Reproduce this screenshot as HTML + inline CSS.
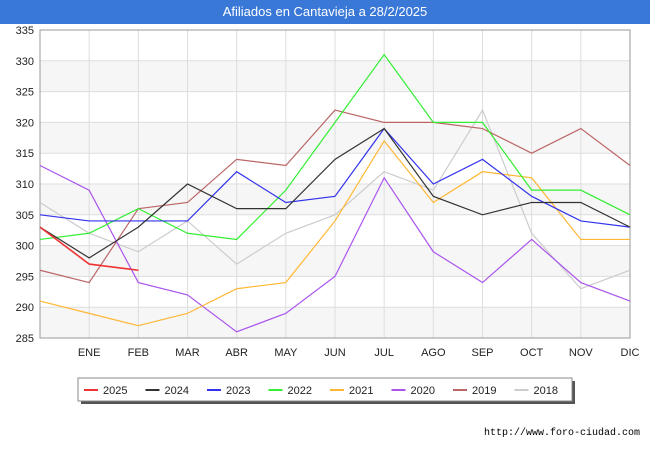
<!DOCTYPE html>
<html><head><meta charset="utf-8"><style>
body{margin:0;width:650px;height:450px;background:#fff;font-family:"Liberation Sans",sans-serif;overflow:hidden}
#title{position:absolute;left:0;top:0;width:650px;height:24px;background:#3a78d8;color:#fff;font-size:13px;text-align:center;line-height:24px}
#url{position:absolute;right:10px;top:428px;font-size:10px;color:#000;font-family:"Liberation Mono",monospace}
</style></head><body>
<div id="title">Afiliados en Cantavieja a 28/2/2025</div>
<svg id="chart" width="650" height="450" style="position:absolute;left:0;top:0"></svg>
<div id="url">http://www.foro-ciudad.com</div>
<script>
const months=["","ENE","FEB","MAR","ABR","MAY","JUN","JUL","AGO","SEP","OCT","NOV","DIC"];
const yTicks=[285,290,295,300,305,310,315,320,325,330,335];
const seriesNames=["2025","2024","2023","2022","2021","2020","2019","2018"];
const seriesColors=["#ee3333","#333333","#3333ee","#33ee33","#ffb733","#aa55ee","#bb6666","#cccccc"];
const s2025=[303,297,296];
const s2024=[303,298,303,310,306,306,314,319,308,305,307,307,303];
const s2023=[305,304,304,304,312,307,308,319,310,314,308,304,303];
const s2022=[301,302,306,302,301,309,320,331,320,320,309,309,305];
const s2021=[291,289,287,289,293,294,304,317,307,312,311,301,301];
const s2020=[313,309,294,292,286,289,295,311,299,294,301,294,291];
const s2019=[296,294,306,307,314,313,322,320,320,319,315,319,313];
const s2018=[307,302,299,304,297,302,305,312,309,322,302,293,296];
const allSeries=[s2025,s2024,s2023,s2022,s2021,s2020,s2019,s2018];
const NS="http://www.w3.org/2000/svg";
const svg=document.getElementById('chart');
const L=40,R=630,T=30,B=338,yMin=285,yMax=335;
const xs=i=>L+i*(R-L)/12;
const ys=v=>B-(v-yMin)*(B-T)/(yMax-yMin);
function mk(t,a){const e=document.createElementNS(NS,t);for(const k in a)e.setAttribute(k,a[k]);svg.appendChild(e);return e;}
for(let i=0;i<yTicks.length-1;i++){
  if(i%2===0){const r=mk('rect',{x:L,y:ys(yTicks[i+1]),width:R-L,height:ys(yTicks[i])-ys(yTicks[i+1]),fill:'#f6f6f6'});
  
  }
}
yTicks.forEach(v=>{
  const l=mk('line',{x1:L,x2:R,y1:ys(v),y2:ys(v),stroke:'#dddddd','stroke-width':1});
  
  
  const t=mk('text',{x:L-6,y:ys(v)+4,'text-anchor':'end','font-size':11,fill:'#222'});t.textContent=v;
  
  
});
months.forEach((m,i)=>{
  const l=mk('line',{x1:xs(i),x2:xs(i),y1:T,y2:B,stroke:'#dddddd','stroke-width':1});
  
  
  if(m){const t=mk('text',{x:xs(i),y:B+18,'text-anchor':'middle','font-size':11,fill:'#222'});t.textContent=m;
  
  }
});
const fr=mk('rect',{x:L,y:T,width:R-L,height:B-T,fill:'none',stroke:'#999','stroke-width':1});


for(let k=allSeries.length-1;k>=0;k--){
  const d=allSeries[k].map((v,i)=>(i?'L':'M')+xs(i)+','+ys(v)).join(' ');
  const p=mk('path',{d:d,fill:'none',stroke:seriesColors[k],'stroke-width':k===0?1.6:1.2});
  
  
}
const sh=mk('rect',{x:81,y:381,width:494,height:23,fill:'#555'});


const lb=mk('rect',{x:78,y:378,width:494,height:23,fill:'#fff',stroke:'#888'});


seriesNames.forEach((n,k)=>{
  const x0=84+k*61.5;
  const l=mk('line',{x1:x0,x2:x0+14,y1:390,y2:390,stroke:seriesColors[k],'stroke-width':2});
  
  
  const t=mk('text',{x:x0+19,y:394,'font-size':11,fill:'#222'});t.textContent=n;
  
  
});
</script>
</body></html>
